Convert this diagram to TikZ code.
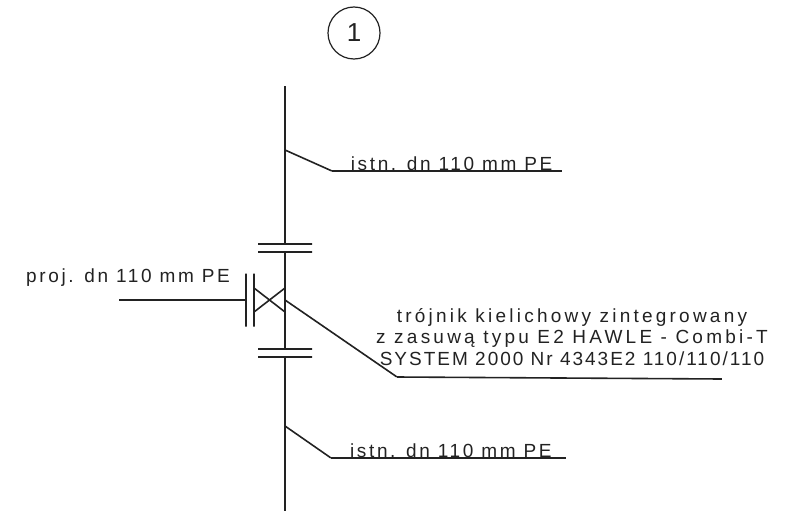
\documentclass[tikz,border=0pt]{standalone}
\usepackage{fontspec}
\setmainfont[LetterSpace=10.5]{Liberation Sans}
\newfontfamily\widefont[LetterSpace=14]{Liberation Sans}
\newfontfamily\widerfont[LetterSpace=17]{Liberation Sans}
\usepackage{tikz}
\usetikzlibrary{positioning}
\definecolor{ink}{HTML}{222222}
\tikzstyle{hidden} = [inner sep=0,minimum size=0]
\tikzstyle{pipe} = [draw=ink,line width=1.6pt]
\tikzstyle{hbar} = [draw=ink,line width=1.6pt,rectangle,inner sep=0,minimum height=0,minimum width=54pt]
\tikzstyle{vbar} = [draw=ink,line width=1.6pt,rectangle,inner sep=0,minimum width=0,minimum height=53pt]
\tikzstyle{lbl} = [text=ink,inner sep=0,font=\fontsize{19}{21.5}\selectfont]
\begin{document}
\begin{tikzpicture}[x=1pt,y=1pt]
		\useasboundingbox (0,0) rectangle (786,-511);
		% nodes
		\node[hidden] (top) at (285,-86) {};								% oberes Ende
		\node[draw=ink,line width=1.2pt,circle,minimum size=52pt,inner sep=0,text=ink,font=\fontsize{26}{26}\selectfont,above of=top,node distance=53pt,xshift=69pt] (num) {1};
		\node[hidden,below of=top,node distance=64pt] (br-a) {};			% Abzweig oben
		\node[hbar,below of=br-a,node distance=94pt] (fl-a1) {};			% Flansch oben
		\node[hbar,below of=fl-a1,node distance=8pt] (fl-a2) {};
		\node[hidden,below of=fl-a2,node distance=48pt] (tee) {};			% Mitte
		\node[hbar,below of=tee,node distance=49pt] (fl-b1) {};				% Flansch unten
		\node[hbar,below of=fl-b1,node distance=8pt] (fl-b2) {};
		\node[hidden,below of=fl-b2,node distance=69pt] (br-b) {};			% Abzweig unten
		\node[hidden,below of=br-b,node distance=85pt] (bottom) {};
		\node[vbar,left of=tee,node distance=31pt] (v-in) {};				% Schieber
		\node[vbar,left of=v-in,node distance=8pt] (v-out) {};
		\node[hidden,left of=v-out,node distance=127pt] (inlet) {};
		\node[hidden,above of=v-in,node distance=12pt] (x-tl) {};
		\node[hidden,below of=v-in,node distance=12pt] (x-bl) {};
		\node[hidden,above of=tee,node distance=12pt] (x-tr) {};
		\node[hidden,below of=tee,node distance=12pt] (x-br) {};
		\node[hidden,right of=br-a,node distance=47pt,yshift=-21pt] (ka) {};
		\node[hidden,right of=ka,node distance=230pt] (ea) {};
		\node[hidden,right of=br-b,node distance=46pt,yshift=-32pt] (kb) {};
		\node[hidden,right of=kb,node distance=235pt] (eb) {};
		\node[hidden,right of=tee,node distance=112pt,yshift=-77pt] (kt) {};
		\node[hidden,right of=kt,node distance=325pt,yshift=-2pt] (et) {};
		\node[lbl,align=center,above of=kt,node distance=40pt,xshift=175pt] (desc) {{\widerfont tr\'ojnik kielichowy zintegrowany}\\{\widerfont z zasuw\k{a} typu E2 HAWLE - Combi-T}\\SYSTEM 2000 Nr 4343E2 110/110/110};
		
		% lines
		\draw[pipe] (top) to (fl-a1);
		\draw[pipe] (fl-a2) to (fl-b1);
		\draw[pipe] (fl-b2) to (bottom);
		\draw[pipe] (inlet) to node [lbl,anchor=base,pos=0.07,yshift=18pt] (proj) {\widefont proj. dn 110 mm PE} (v-out);
		\draw[pipe] (x-tl) to (x-br);
		\draw[pipe] (x-bl) to (x-tr);
		\draw[pipe] (br-a) -- (ka);
		\draw[pipe] (ka) to node [lbl,anchor=base,pos=0.52,yshift=1pt] (ist-a) {\widefont istn. dn 110 mm PE} (ea);
		\draw[pipe] (br-b) -- (kb);
		\draw[pipe] (kb) to node [lbl,anchor=base,pos=0.51,yshift=1pt] (ist-b) {\widefont istn. dn 110 mm PE} (eb);
		\draw[pipe] (tee) -- (kt) -- (et);
		\end{tikzpicture}
\end{document}
